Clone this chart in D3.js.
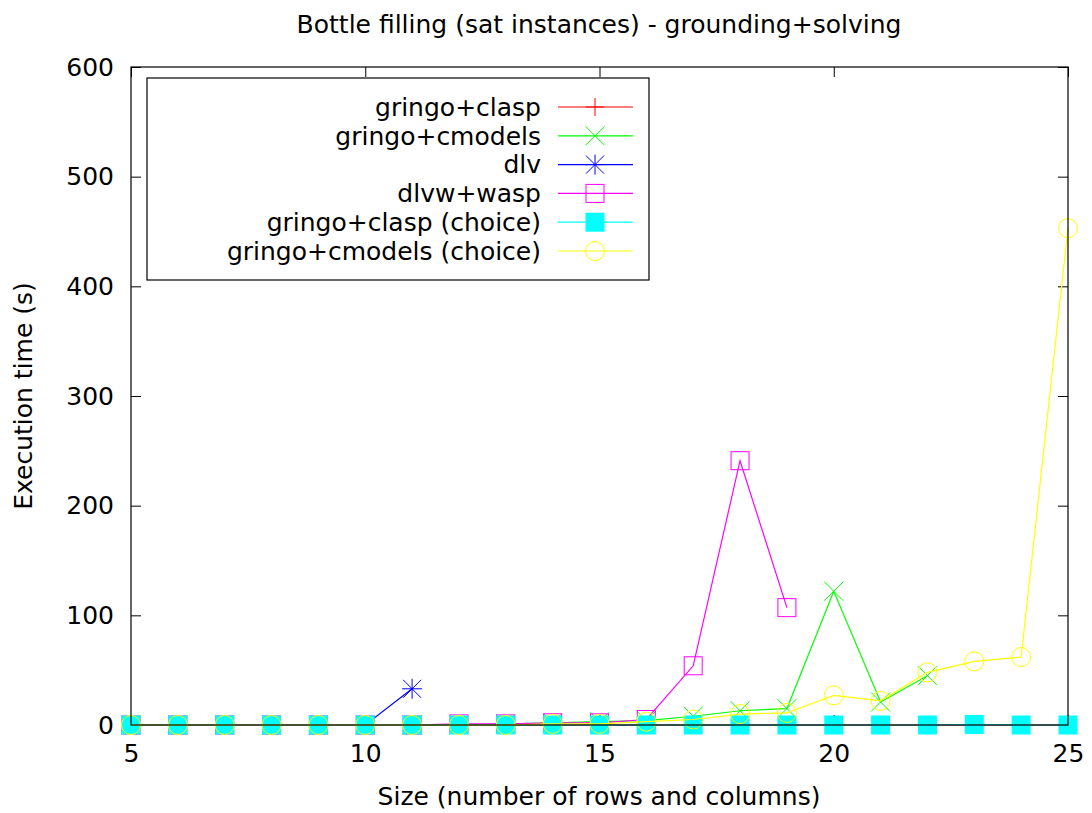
<!DOCTYPE html>
<html>
<head>
<meta charset="utf-8">
<script src="https://cdn.jsdelivr.net/npm/d3@7"></script>
<style>
  body { margin: 0; background: #fff; }
  text { font-family: "DejaVu Sans", sans-serif; }
</style>
</head>
<body>
<script>
const svgWidth = 1092
const svgHeight = 813

const margin = { top: 67, right: 24, bottom: 88, left: 131 }
const chartWidth = svgWidth - margin.left - margin.right
const chartHeight = svgHeight - margin.top - margin.bottom

// data
const sizes = d3.range(5, 26)
const xTicks = [5, 10, 15, 20, 25]
const yTicks = [0, 100, 200, 300, 400, 500, 600]

const gringoClasp = [0, 0, 0, 0, 0, 0, 0, 0, 0, 0, 0, 0, 0, 0, 0, 0, 0, 0, 0, 0, 0]
const gringoCmodels = [0, 0, 0, 0, 0, 0, 0, 0, 1, 2, 3, 4, 8, 13, 15, 122, 21, 45]
const dlv = [0, 0, 0, 0, 0, 0, 33]
const dlvwWasp = [0, 0, 0, 0, 0, 0, 0, 1, 1, 2, 2, 5, 54, 241, 107]
const gringoClaspChoice = [0, 0, 0, 0, 0, 0, 0, 0, 0, 0, 0, 0, 0, 0, 0, 0, 0, 0, 0.5, 0, 0]
const gringoCmodelsChoice = [0, 0, 0, 0, 0, 0, 0, 0, 0, 1, 1, 3, 5, 10, 11, 27, 22, 48, 58, 62, 453]

const series = [
  { name: "gringo+clasp", values: gringoClasp, color: "#ff0000", marker: "plus" },
  { name: "gringo+cmodels", values: gringoCmodels, color: "#00ff00", marker: "cross" },
  { name: "dlv", values: dlv, color: "#0000ff", marker: "star" },
  { name: "dlvw+wasp", values: dlvwWasp, color: "#ff00ff", marker: "square" },
  { name: "gringo+clasp (choice)", values: gringoClaspChoice, color: "#00ffff", marker: "filledSquare" },
  { name: "gringo+cmodels (choice)", values: gringoCmodelsChoice, color: "#ffff00", marker: "circle" }
]

const fontSize = "25px"

const svg = d3.select("body").append("svg")
  .attr("width", svgWidth)
  .attr("height", svgHeight)

const chartG = svg.append("g")
  .attr("transform", `translate(${margin.left}, ${margin.top})`)

const x = d3.scaleLinear().domain([5, 25]).range([0, chartWidth])
const y = d3.scaleLinear().domain([0, 600]).range([chartHeight, 0])

// axes with inward ticks, mirrored like gnuplot
const tick = 10
chartG.append("g")
  .attr("transform", `translate(0, ${chartHeight})`)
  .call(d3.axisBottom(x).tickValues(xTicks).tickSize(-tick).tickPadding(19))
chartG.append("g")
  .call(d3.axisTop(x).tickValues(xTicks).tickSize(-tick).tickFormat(""))
chartG.append("g")
  .call(d3.axisLeft(y).tickValues(yTicks).tickSize(-tick).tickPadding(17))
chartG.append("g")
  .attr("transform", `translate(${chartWidth}, 0)`)
  .call(d3.axisRight(y).tickValues(yTicks).tickSize(-tick).tickFormat(""))

chartG.selectAll(".domain").remove()
chartG.selectAll(".tick line").attr("stroke", "#000")
chartG.selectAll(".tick text")
  .attr("font-size", fontSize)
  .attr("fill", "#000")
  .attr("font-family", "DejaVu Sans, sans-serif")

function drawMarker(g, type, color) {
  if (type === "plus") {
    g.append("path").attr("d", "M-9,0H9M0,-9V9").attr("stroke", color).attr("fill", "none")
  } else if (type === "cross") {
    g.append("path").attr("d", "M-9.5,-9.5L9.5,9.5M-9.5,9.5L9.5,-9.5").attr("stroke", color).attr("fill", "none")
  } else if (type === "star") {
    g.append("path").attr("d", "M-10,0H10M0,-10V10M-9,-9L9,9M-9,9L9,-9").attr("stroke", color).attr("fill", "none")
  } else if (type === "square") {
    g.append("rect").attr("x", -9).attr("y", -9).attr("width", 18).attr("height", 18)
      .attr("stroke", color).attr("fill", "none")
  } else if (type === "filledSquare") {
    g.append("rect").attr("x", -9.5).attr("y", -9.5).attr("width", 19).attr("height", 19)
      .attr("fill", color)
  } else if (type === "circle") {
    g.append("circle").attr("r", 9.5).attr("stroke", color).attr("fill", "none")
  }
}

const line = d3.line()
  .x((d, i) => x(sizes[i]))
  .y(d => y(d))

const plotArea = chartG.append("g")
series.forEach(s => {
  plotArea.append("path")
    .datum(s.values)
    .attr("d", line)
    .attr("fill", "none")
    .attr("stroke", s.color)
    .attr("stroke-width", 1.2)
  plotArea.selectAll(null)
    .data(s.values)
    .enter()
    .append("g")
    .attr("transform", (d, i) => `translate(${x(sizes[i])}, ${y(d)})`)
    .each(function () { drawMarker(d3.select(this), s.marker, s.color) })
})

// border drawn on top of the data, as gnuplot does
chartG.append("rect")
  .attr("width", chartWidth)
  .attr("height", chartHeight)
  .attr("fill", "none")
  .attr("stroke", "#000")
  .attr("stroke-width", 1.2)

// legend
const legend = svg.append("g").attr("transform", "translate(147, 78)")
legend.append("rect")
  .attr("width", 502)
  .attr("height", 202)
  .attr("fill", "#fff")
  .attr("stroke", "#000")
  .attr("stroke-width", 1.2)

series.forEach((s, i) => {
  const row = legend.append("g").attr("transform", `translate(0, ${29 + i * 28.8})`)
  row.append("text")
    .attr("x", 394)
    .attr("dy", "0.35em")
    .attr("text-anchor", "end")
    .attr("font-size", fontSize)
    .text(s.name)
  row.append("line")
    .attr("x1", 411).attr("x2", 486)
    .attr("stroke", s.color)
    .attr("stroke-width", 1.2)
  const m = row.append("g").attr("transform", "translate(448, 0)")
  drawMarker(m, s.marker, s.color)
})

svg.append("text")
  .attr("x", 599)
  .attr("y", 33)
  .attr("text-anchor", "middle")
  .attr("font-size", fontSize)
  .text("Bottle filling (sat instances) - grounding+solving")

svg.append("text")
  .attr("x", 599)
  .attr("y", 805)
  .attr("text-anchor", "middle")
  .attr("font-size", fontSize)
  .text("Size (number of rows and columns)")

svg.append("text")
  .attr("transform", "translate(32, 396) rotate(-90)")
  .attr("text-anchor", "middle")
  .attr("font-size", fontSize)
  .text("Execution time (s)")
</script>
</body>
</html>
